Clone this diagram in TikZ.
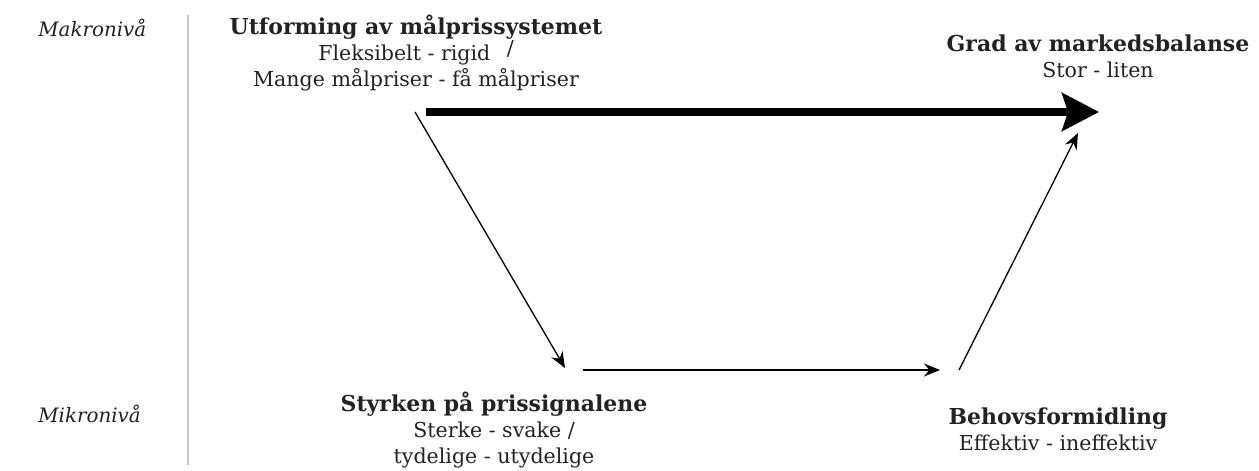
\documentclass[tikz,border=0pt]{standalone}
\usepackage{fontspec}
\setmainfont{DejaVu Serif}
\definecolor{dividergray}{RGB}{200,200,200}
\definecolor{textdark}{RGB}{34,34,34}
\usetikzlibrary{arrows.meta,positioning}
\newcommand{\factortitle}[1]{{\fontsize{12.5}{14.8}\selectfont\bfseries #1}}

\begin{document}
\begin{tikzpicture}[
  every node/.style={font=\fontsize{11.7}{14.8}\selectfont,text=textdark},
  factor/.style={align=center,inner sep=0pt},
  levelname/.style={font=\fontsize{11.3}{14.6}\selectfont\itshape,inner sep=0pt,anchor=west},
  flow/.style={-{Stealth[length=0.32cm,width=0.26cm]},line width=0.75pt},
  mainflow/.style={-{Stealth[length=0.74cm,width=0.76cm,inset=0.12cm]},line width=4pt},
]
  \useasboundingbox (0,0) rectangle (25.18,9.42);
  % Levels
  \node[levelname] (makro) at (0.76,8.86) {Makronivå};
  \node[levelname] (mikro) at (0.76,1.14) {Mikronivå};
  \draw[dividergray,line width=0.8pt] (3.76,9.12) -- (3.76,0.12);
  % Factors
  \node[factor] (design) at (8.32,8.36) {\factortitle{Utforming av målprissystemet}\\
    Fleksibelt - rigid\hspace{0.8em}\raisebox{3pt}{/}\\Mange målpriser - få målpriser};
  \node[factor] (balance) at (21.96,8.29) {\factortitle{Grad av markedsbalanse}\\Stor - liten};
  \node[factor] (signals) at (9.88,0.82) {\factortitle{Styrken på prissignalene}\\
    Sterke - svake /\\tydelige - utydelige};
  \node[factor] (needs) at (21.16,0.84) {\factortitle{Behovsformidling}\\Effektiv - ineffektiv};
  % Arrow ends
  \coordinate (design main) at (8.52,7.18);
  \coordinate (design down) at (8.30,7.18);
  \coordinate (balance main) at (21.98,7.18);
  \coordinate (balance up) at (21.56,6.76);
  \coordinate (signals in) at (11.30,2.06);
  \coordinate (signals out) at (11.66,2.02);
  \coordinate (needs in) at (18.80,2.02);
  \coordinate (needs out) at (19.18,2.02);
  % Arrows
  \draw[mainflow] (design main) -- (balance main);
  \draw[flow] (design down) -- (signals in);
  \draw[flow] (signals out) -- (needs in);
  \draw[flow] (needs out) -- (balance up);
\end{tikzpicture}
\end{document}
